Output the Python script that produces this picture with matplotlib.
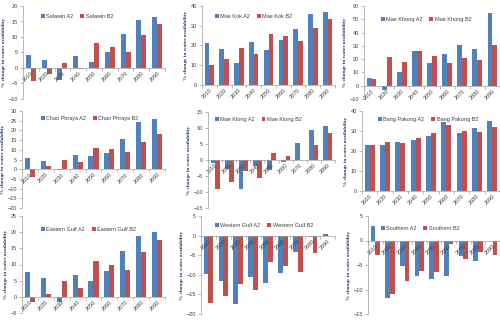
import matplotlib.pyplot as plt
import numpy as np

plt.rcParams['font.family'] = ['Liberation Sans', 'DejaVu Sans']

# decades on the x axis
years = ['2010', '2020', '2030', '2040', '2050', '2060', '2070', '2080', '2090']

# % change in water availability
salawin_a2 = [4.3, 2.7, -4.0, 3.8, 1.8, 5.0, 10.9, 15.4, 16.5]
salawin_b2 = [-4.2, -2.0, 1.6, -0.2, 8.0, 6.7, 5.2, 10.6, 14.3]
maekok_a2 = [21.5, 18.3, 11.3, 22.0, 17.8, 23.0, 28.3, 36.0, 37.0]
maekok_b2 = [10.2, 13.3, 18.9, 15.7, 26.0, 24.7, 22.5, 28.7, 33.3]
maekhong_a2 = [6.0, -3.0, 10.2, 26.3, 17.3, 24.0, 30.7, 27.5, 54.5]
maekhong_b2 = [5.2, 21.5, 17.5, 26.3, 22.0, 17.0, 20.5, 19.5, 31.0]
chaophraya_a2 = [5.8, 4.2, -0.5, 7.3, 6.6, 8.3, 15.5, 24.2, 25.8]
chaophraya_b2 = [-3.8, 1.5, 4.6, 3.5, 11.0, 10.6, 8.7, 13.8, 18.0]
maeklong_a2 = [-0.8, -2.8, -9.0, -1.8, -3.0, -0.5, 5.2, 9.4, 10.6]
maeklong_b2 = [-9.2, -7.0, -3.5, -5.5, 2.2, 1.3, 0.0, 4.8, 8.3]
bangpakong_a2 = [23.0, 23.0, 24.4, 25.5, 27.7, 34.5, 28.8, 31.7, 35.0]
bangpakong_b2 = [22.8, 24.6, 24.0, 26.5, 29.0, 33.0, 29.8, 29.5, 32.0]
eastgulf_a2 = [7.6, 5.8, -1.5, 6.8, 5.0, 8.0, 14.2, 18.7, 19.9]
eastgulf_b2 = [-1.5, 1.0, 4.8, 2.8, 11.0, 9.9, 8.4, 14.0, 17.5]
westgulf_a2 = [-9.8, -11.5, -17.5, -10.6, -12.2, -9.5, -4.2, -0.3, 0.5]
westgulf_b2 = [-17.3, -15.4, -12.3, -14.0, -6.8, -7.8, -9.2, -4.5, 0.0]
southern_a2 = [3.0, -11.8, -5.2, -7.3, -7.9, -7.2, -3.2, -4.1, 0.0]
southern_b2 = [-2.9, -11.0, -8.3, -6.2, -6.4, -0.8, -3.8, -2.3, -3.0]

W, H = 500, 321
blue = '#4F81BD'
red = '#C0504D'
txt = '#404040'

def px(x0, y0, x1, y1):
    # pixel box -> figure fraction
    return [x0 / W, 1 - y1 / H, (x1 - x0) / W, (y1 - y0) / H]

# name, a2, b2, ylim, step, axes box (px), legend pos (px)
panels = [
    ('Salawin', salawin_a2, salawin_b2, (-10, 20), 5, (23, 6, 165, 99), (38, 11)),
    ('Mae Kok', maekok_a2, maekok_b2, (0, 40), 10, (202, 6, 335, 85), (212, 11)),
    ('Mae Khong', maekhong_a2, maekhong_b2, (-10, 60), 10, (364, 6, 500, 99), (378, 14)),
    ('Chao Phraya', chaophraya_a2, chaophraya_b2, (-20, 30), 5, (22, 111, 165, 208), (38, 113)),
    ('Mae Klong', maeklong_a2, maeklong_b2, (-15, 15), 5, (208, 112, 335, 208), (212, 114)),
    ('Bang Pakong', bangpakong_a2, bangpakong_b2, (0, 40), 10, (362, 111, 500, 191), (375, 114)),
    ('Eastern Gulf', eastgulf_a2, eastgulf_b2, (-5, 25), 5, (22, 216, 165, 313), (38, 224)),
    ('Western Gulf', westgulf_a2, westgulf_b2, (-20, 5), 5, (201, 216, 335, 314), (212, 220)),
    ('Southern', southern_a2, southern_b2, (-15, 5), 5, (368, 216, 500, 314), (378, 223)),
]

fig = plt.figure(figsize=(W / 100, H / 100), dpi=100)
x = np.arange(len(years))
bw = 0.32

for name, a2, b2, ylim, step, box, leg in panels:
    ax = fig.add_axes(px(*box))
    ax.bar(x - bw / 2, a2, bw, color=blue, label=name + ' A2')
    ax.bar(x + bw / 2, b2, bw, color=red, label=name + ' B2')
    ax.set_xlim(-0.5, len(years) - 0.5)
    ax.set_ylim(*ylim)
    ax.set_yticks(np.arange(ylim[0], ylim[1] + 0.1, step))
    ax.tick_params(axis='y', labelsize=4, labelcolor=txt, length=2, width=0.5, pad=1.5,
                   color='#a0a0a0')
    for s in ['top', 'right']:
        ax.spines[s].set_visible(False)
    ax.spines['left'].set_color('#a0a0a0')
    ax.spines['left'].set_linewidth(0.5)
    ax.spines['bottom'].set_position(('data', 0))
    ax.spines['bottom'].set_color('#a0a0a0')
    ax.spines['bottom'].set_linewidth(0.5)
    ax.set_xticks(x)
    ax.set_xticks(np.arange(-0.5, len(years)), minor=True)
    ax.set_xticklabels(years, rotation=45, ha='right', va='top', rotation_mode='anchor')
    ax.tick_params(axis='x', which='major', length=0, labelsize=4, labelcolor=txt, pad=2)
    ax.tick_params(axis='x', which='minor', length=2, width=0.5, color='#a0a0a0')
    ax.set_ylabel('% change in water availability', fontsize=3.8, color='#1F3864',
                  fontweight='bold', family='Liberation Serif', labelpad=2)
    ax.legend(ncol=2, frameon=False, fontsize=4, loc='upper left',
              bbox_to_anchor=(leg[0] / W, 1 - leg[1] / H), bbox_transform=fig.transFigure,
              handlelength=0.7, handleheight=0.7, handletextpad=0.3, columnspacing=1.2,
              borderpad=0, labelcolor=txt)

fig.savefig('out.png', dpi=100)
